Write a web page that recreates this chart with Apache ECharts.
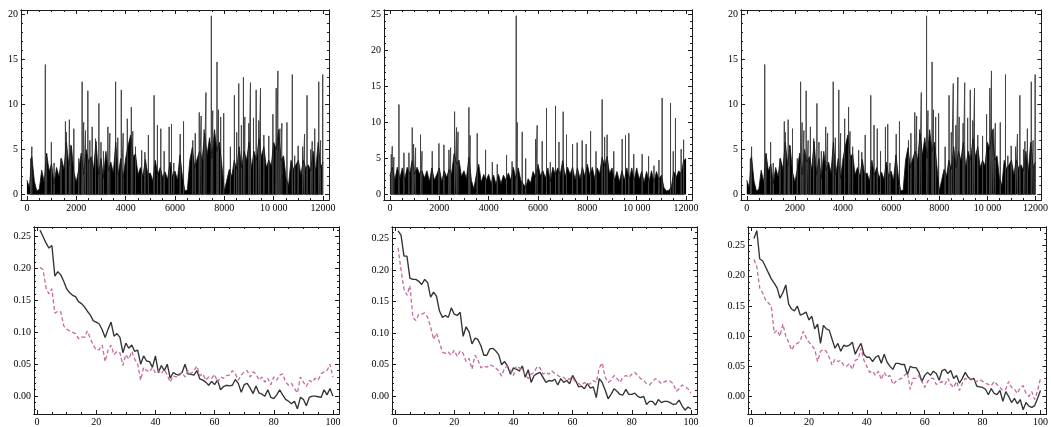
<!DOCTYPE html>
<html>
<head>
<meta charset="utf-8">
<script src="https://cdn.jsdelivr.net/npm/echarts@6/dist/echarts.min.js"></script>
<style>
html, body { margin: 0; padding: 0; background: #fff; }
#chart { width: 1051px; height: 427px; }
</style>
</head>
<body>
<div id="chart"></div>
<script>
// ---- tick labels ----
const topXTicks = [0, 2000, 4000, 6000, 8000, 10000, 12000];
const topXLabels = ['0', '2000', '4000', '6000', '8000', '10 000', '12000'];
const topYTicks20 = [0, 5, 10, 15, 20];
const topYTicks25 = [0, 5, 10, 15, 20, 25];
const botXTicks = [0, 20, 40, 60, 80, 100];
const botYTicks = [0, 0.05, 0.10, 0.15, 0.20, 0.25];

// ---- series A (left and right columns): dense part sampled every 100 steps, then isolated peaks ----
const bodyA = [
  1.6, 0.8, 4.2, 1.5, 0.4, 0.6, 2.7, 1.4, 4.5, 2.6,
  3.4, 1.2, 3.0, 2.0, 4.0, 2.8, 5.8, 3.2, 5.4, 2.5,
  1.4, 2.8, 4.6, 2.2, 5.0, 3.6, 4.2, 2.8, 5.9, 2.2,
  4.0, 1.8, 4.8, 2.6, 3.6, 2.4, 5.8, 2.2, 4.0, 1.8,
  4.0, 5.4, 6.6, 4.2, 4.5, 2.2, 3.0, 2.0, 3.9, 2.2,
  2.4, 1.5, 3.8, 2.2, 3.0, 1.9, 2.5, 1.7, 3.6, 2.0,
  2.6, 1.6, 4.4, 2.0, 0.4, 0.5, 3.8, 5.2, 3.0, 4.0,
  4.8, 3.8, 6.8, 4.4, 6.3, 4.0, 7.2, 4.8, 5.8, 3.2,
  0.4, 1.6, 2.8, 2.0, 3.8, 2.8, 5.3, 3.0, 4.8, 3.8,
  5.8, 3.0, 4.8, 3.8, 6.2, 4.2, 5.3, 3.0, 3.8, 3.2,
  5.8, 5.0, 7.2, 3.8, 4.3, 1.8, 1.0, 3.8, 2.8, 3.3,
  3.8, 2.2, 3.8, 2.9, 3.3, 2.6, 4.8, 2.5, 5.8, 3.0,
  3.6
];
const peaksA = [
  [150, 4.0], [200, 5.3], [746, 14.4], [800, 4.6], [990, 5.8], [1100, 3.5], [1380, 4.0],
  [1560, 8.1], [1600, 6.9], [1720, 8.3], [1780, 5.5], [1900, 7.3], [2100, 4.0], [2237, 12.5],
  [2300, 8.0], [2373, 7.1], [2468, 11.5], [2550, 6.0], [2644, 7.5], [2780, 6.2], [2915, 10.1],
  [3000, 5.8], [3100, 4.8], [3280, 7.5], [3360, 6.8], [3593, 12.5], [3680, 6.3], [3824, 11.6],
  [3900, 6.8], [4068, 8.4], [4231, 9.7], [4290, 7.0], [4400, 5.3], [4650, 4.9], [4780, 4.7],
  [4922, 6.6], [5153, 11.0], [5288, 7.7], [5424, 7.3], [5560, 4.8], [5763, 7.5], [5858, 7.8],
  [5950, 3.5], [6210, 6.7], [6346, 8.1], [6720, 6.0], [6821, 6.8], [6983, 9.1], [7060, 8.7],
  [7180, 7.2], [7254, 11.3], [7472, 19.8], [7530, 9.3], [7702, 14.7], [7760, 9.4], [7850, 8.6],
  [7973, 9.0], [8244, 5.3], [8407, 11.0], [8500, 6.9], [8583, 12.3], [8690, 7.7], [8773, 13.0],
  [8830, 8.6], [8990, 7.9], [9058, 12.4], [9180, 8.5], [9289, 11.6], [9390, 8.2], [9465, 11.8],
  [9600, 6.6], [9800, 6.5], [9967, 8.9], [10100, 11.8], [10170, 13.7], [10250, 7.3], [10330, 7.9],
  [10536, 8.0], [10753, 13.3], [10850, 4.3], [10990, 5.4], [11170, 5.3], [11250, 6.7], [11350, 11.0],
  [11500, 5.0], [11560, 5.9], [11662, 7.3], [11825, 12.5], [11900, 6.0], [11985, 13.3]
];

// ---- series B (middle column) ----
const bodyB = [
  2.6, 3.8, 2.0, 3.8, 2.2, 3.7, 2.1, 3.8, 2.8, 4.7,
  2.8, 3.8, 2.9, 3.3, 2.3, 3.3, 1.8, 3.7, 2.0, 2.8,
  3.7, 1.8, 3.3, 2.4, 3.5, 2.9, 5.7, 4.2, 4.8, 2.5,
  3.3, 2.2, 5.2, 2.0, 0.8, 2.7, 4.2, 1.7, 2.8, 2.0,
  2.8, 1.5, 2.7, 1.4, 2.8, 1.5, 2.7, 2.0, 3.0, 2.0,
  3.8, 2.2, 3.7, 2.0, 1.5, 1.0, 2.2, 1.6, 3.2, 2.4,
  4.2, 2.6, 3.3, 2.3, 3.7, 1.8, 3.8, 2.8, 3.7, 2.8,
  4.7, 2.5, 3.8, 2.8, 3.8, 2.1, 3.7, 2.2, 3.8, 2.5,
  4.2, 2.6, 3.8, 2.2, 3.7, 2.9, 5.2, 4.0, 5.3, 2.9,
  3.7, 2.0, 3.2, 1.8, 3.3, 2.0, 3.7, 2.1, 3.7, 2.0,
  3.7, 2.1, 3.2, 1.7, 3.2, 1.8, 3.3, 1.7, 3.2, 2.1,
  2.7, 1.0, 0.5, 0.6, 1.0, 3.2, 2.4, 3.3, 2.9, 4.7,
  5.0
];
const peaksB = [
  [54, 5.6], [95, 6.7], [160, 5.2], [365, 12.5], [567, 5.8], [770, 5.8], [905, 9.3], [960, 7.0],
  [1040, 6.5], [1240, 8.3], [1300, 6.0], [1715, 6.0], [1985, 7.1], [2187, 6.9], [2390, 6.2],
  [2460, 6.5], [2620, 11.5], [2700, 9.3], [2760, 8.7], [3200, 12.1], [3250, 8.2], [3537, 8.5],
  [3875, 6.2], [4150, 4.5], [4350, 4.2], [4725, 5.5], [4950, 4.6], [5117, 24.8], [5160, 10.0],
  [5360, 8.7], [5500, 5.0], [5900, 7.7], [5967, 9.6], [6170, 7.4], [6345, 12.0], [6500, 4.5],
  [6710, 12.3], [6850, 7.3], [7020, 11.5], [7155, 8.3], [7400, 7.0], [7587, 7.2], [7790, 7.5],
  [7950, 7.0], [8130, 8.8], [8350, 6.0], [8600, 13.2], [8700, 8.0], [8800, 8.3], [9070, 6.0],
  [9410, 7.7], [9545, 8.2], [9680, 8.5], [9880, 5.6], [10220, 5.6], [10480, 5.3], [10700, 4.0],
  [10900, 4.8], [11030, 13.4], [11370, 12.7], [11480, 6.0], [11570, 10.6], [11800, 6.3], [11900, 7.6]
];

// ---- lag curves, lags 1..100 ----
const leftSolid = [
  0.260, 0.250, 0.240, 0.232, 0.236, 0.188, 0.195, 0.190, 0.180, 0.168,
  0.162, 0.158, 0.156, 0.148, 0.145, 0.140, 0.133, 0.127, 0.118, 0.116,
  0.113, 0.104, 0.092, 0.105, 0.116, 0.094, 0.098, 0.092, 0.068, 0.083,
  0.075, 0.080, 0.070, 0.072, 0.050, 0.063, 0.055, 0.054, 0.045, 0.063,
  0.037, 0.048, 0.040, 0.050, 0.028, 0.037, 0.034, 0.033, 0.037, 0.050,
  0.035, 0.034, 0.033, 0.040, 0.027, 0.025, 0.022, 0.017, 0.023, 0.018,
  0.025, 0.010, 0.015, 0.017, 0.016, 0.017, 0.026, 0.020, 0.006, 0.018,
  0.020, 0.013, 0.004, 0.016, 0.005, 0.003, 0.000, 0.010, -0.002, -0.004,
  0.002, 0.010, 0.002, -0.005, -0.008, -0.012, -0.008, -0.020, -0.002, -0.005,
  -0.015, -0.002, 0.000, 0.000, -0.001, -0.002, 0.010, 0.002, 0.012, 0.000
];
const leftDashed = [
  0.202, 0.198, 0.170, 0.160, 0.168, 0.130, 0.133, 0.132, 0.110, 0.105,
  0.102, 0.100, 0.098, 0.090, 0.093, 0.092, 0.102, 0.090, 0.080, 0.072,
  0.073, 0.080, 0.054, 0.072, 0.080, 0.065, 0.070, 0.068, 0.048, 0.065,
  0.058, 0.070, 0.058, 0.050, 0.025, 0.045, 0.040, 0.038, 0.045, 0.036,
  0.040, 0.035, 0.042, 0.033, 0.022, 0.032, 0.030, 0.035, 0.037, 0.030,
  0.040, 0.035, 0.040, 0.047, 0.032, 0.035, 0.025, 0.030, 0.028, 0.034,
  0.022, 0.030, 0.028, 0.032, 0.033, 0.040, 0.035, 0.025, 0.033, 0.038,
  0.040, 0.030, 0.038, 0.035, 0.025, 0.030, 0.022, 0.028, 0.018, 0.030,
  0.025, 0.033, 0.035, 0.022, 0.017, 0.020, 0.012, 0.005, 0.030, 0.022,
  0.015, 0.025, 0.022, 0.028, 0.025, 0.035, 0.038, 0.040, 0.050, 0.030
];
const midSolid = [
  0.262, 0.255, 0.222, 0.222, 0.187, 0.185, 0.185, 0.182, 0.177, 0.185,
  0.180, 0.157, 0.165, 0.158, 0.135, 0.125, 0.128, 0.125, 0.140, 0.130,
  0.128, 0.133, 0.095, 0.110, 0.102, 0.083, 0.092, 0.090, 0.080, 0.065,
  0.065, 0.075, 0.076, 0.072, 0.066, 0.050, 0.055, 0.048, 0.035, 0.045,
  0.043, 0.040, 0.048, 0.030, 0.042, 0.022, 0.033, 0.036, 0.038, 0.030,
  0.022, 0.025, 0.024, 0.027, 0.018, 0.028, 0.022, 0.025, 0.020, 0.033,
  0.025, 0.015, 0.016, 0.012, 0.020, 0.013, 0.015, -0.002, 0.028, 0.022,
  0.010, -0.004, 0.003, 0.012, 0.008, 0.003, 0.002, 0.011, 0.003, 0.003,
  0.005, 0.000, -0.002, 0.000, -0.013, -0.008, -0.008, -0.014, -0.005, -0.010,
  -0.008, -0.008, -0.010, -0.013, -0.012, -0.006, -0.015, -0.022, -0.017, -0.020
];
const midDashed = [
  0.235, 0.200, 0.170, 0.160, 0.175, 0.125, 0.120, 0.130, 0.130, 0.132,
  0.125, 0.110, 0.090, 0.100, 0.085, 0.070, 0.068, 0.070, 0.065, 0.073,
  0.063, 0.072, 0.068, 0.055, 0.060, 0.043, 0.065, 0.058, 0.045, 0.048,
  0.046, 0.050, 0.048, 0.045, 0.040, 0.032, 0.045, 0.048, 0.040, 0.033,
  0.048, 0.045, 0.040, 0.035, 0.028, 0.035, 0.038, 0.047, 0.045, 0.035,
  0.038, 0.035, 0.040, 0.036, 0.033, 0.030, 0.030, 0.025, 0.028, 0.030,
  0.022, 0.020, 0.018, 0.022, 0.018, 0.020, 0.025, 0.022, 0.045, 0.053,
  0.030, 0.022, 0.025, 0.033, 0.028, 0.022, 0.030, 0.033, 0.030, 0.035,
  0.038, 0.033, 0.028, 0.025, 0.020, 0.018, 0.023, 0.028, 0.025, 0.020,
  0.023, 0.025, 0.024, 0.020, 0.008, 0.012, 0.018, 0.015, 0.012, 0.005
];
const rightSolid = [
  0.262, 0.275, 0.228, 0.225, 0.215, 0.205, 0.195, 0.188, 0.180, 0.163,
  0.172, 0.185, 0.153, 0.145, 0.142, 0.150, 0.135, 0.137, 0.140, 0.127,
  0.133, 0.112, 0.120, 0.088, 0.118, 0.112, 0.110, 0.095, 0.080, 0.088,
  0.075, 0.085, 0.083, 0.085, 0.090, 0.070, 0.080, 0.088, 0.070, 0.065,
  0.065, 0.058, 0.065, 0.068, 0.055, 0.070, 0.057, 0.050, 0.045, 0.055,
  0.055, 0.053, 0.053, 0.036, 0.050, 0.048, 0.048, 0.040, 0.025, 0.035,
  0.040, 0.035, 0.042, 0.038, 0.027, 0.043, 0.045, 0.038, 0.043, 0.030,
  0.035, 0.022, 0.030, 0.040, 0.032, 0.028, 0.030, 0.017, 0.016, 0.015,
  0.012, 0.003, 0.013, 0.005, 0.003, 0.010, -0.008, 0.008, 0.000, -0.010,
  -0.003, -0.012, -0.005, -0.022, -0.010, -0.016, -0.018, -0.015, -0.003, 0.010
];
const rightDashed = [
  0.227, 0.215, 0.180, 0.172, 0.160, 0.155, 0.150, 0.105, 0.110, 0.100,
  0.120, 0.100, 0.090, 0.077, 0.085, 0.088, 0.092, 0.108, 0.098, 0.090,
  0.085, 0.078, 0.058, 0.075, 0.078, 0.075, 0.065, 0.052, 0.062, 0.058,
  0.060, 0.052, 0.050, 0.055, 0.045, 0.060, 0.062, 0.080, 0.060, 0.050,
  0.040, 0.042, 0.035, 0.042, 0.028, 0.040, 0.032, 0.035, 0.020, 0.025,
  0.028, 0.030, 0.035, 0.040, 0.012, 0.030, 0.030, 0.035, 0.025, 0.015,
  0.025, 0.030, 0.030, 0.020, 0.022, 0.025, 0.020, 0.030, 0.020, 0.015,
  0.025, 0.010, 0.022, 0.030, 0.028, 0.030, 0.025, 0.025, 0.028, 0.025,
  0.022, 0.020, 0.018, 0.025, 0.020, 0.015, 0.010, 0.012, 0.025, 0.015,
  0.012, 0.005, 0.015, 0.018, 0.005, 0.000, 0.008, -0.005, 0.010, 0.030
];

// ---- styling ----
const FONT = '"Liberation Serif", "DejaVu Serif", serif';
const INK = '#1c1c1c';
const SOLID = '#333333';
const DASHED = '#c46c9e';

const panels = [
  { box: { left: 21, top: 10, width: 308, height: 190 }, x: [-240, 12240], y: [-0.6, 20.45],
    xt: topXTicks, xl: topXLabels, xm: 500, yt: topYTicks20, yl: topYTicks20.map(String), ym: 1,
    kind: 'trace', body: bodyA, peaks: peaksA },
  { box: { left: 384, top: 10, width: 308, height: 190 }, x: [-240, 12240], y: [-0.75, 25.6],
    xt: topXTicks, xl: topXLabels, xm: 500, yt: topYTicks25, yl: topYTicks25.map(String), ym: 1,
    kind: 'trace', body: bodyB, peaks: peaksB },
  { box: { left: 741, top: 10, width: 308, height: 190 }, x: [-240, 12240], y: [-0.6, 20.45],
    xt: topXTicks, xl: topXLabels, xm: 500, yt: topYTicks20, yl: topYTicks20.map(String), ym: 1,
    kind: 'trace', body: bodyA, peaks: peaksA },
  { box: { left: 34, top: 227, width: 305, height: 188 }, x: [-1.05, 102.05], y: [-0.028, 0.265],
    xt: botXTicks, xl: botXTicks.map(String), xm: 5, yt: botYTicks, yl: botYTicks.map(v => v.toFixed(2)), ym: 0.01,
    kind: 'lags', solid: leftSolid, dashed: leftDashed },
  { box: { left: 392, top: 227, width: 305, height: 188 }, x: [-1.05, 102.05], y: [-0.028, 0.268],
    xt: botXTicks, xl: botXTicks.map(String), xm: 5, yt: botYTicks, yl: botYTicks.map(v => v.toFixed(2)), ym: 0.01,
    kind: 'lags', solid: midSolid, dashed: midDashed },
  { box: { left: 748, top: 227, width: 305, height: 188 }, x: [-1.05, 102.05], y: [-0.029, 0.281],
    xt: botXTicks, xl: botXTicks.map(String), xm: 5, yt: botYTicks, yl: botYTicks.map(v => v.toFixed(2)), ym: 0.01,
    kind: 'lags', solid: rightSolid, dashed: rightDashed }
];

function minorValues(range, step, majors) {
  const out = [];
  const start = Math.ceil(range[0] / step - 1e-9);
  for (let k = start; k * step <= range[1] + 1e-9; k++) {
    const v = Math.round(k * step * 1e6) / 1e6;
    if (!majors.some(m => Math.abs(m - v) < 1e-9)) out.push(v);
  }
  return out;
}

// each peak is drawn as a vertical stroke rising from the baseline
function peakPath(peaks) {
  const pts = [];
  peaks.slice().sort((a, b) => a[0] - b[0]).forEach(([x, h]) => {
    pts.push([x, 0], [x, h], [x, 0]);
  });
  return pts;
}

function frameAxis(gi, range, pos, ticks, len, labels) {
  const ax = {
    type: 'value', gridIndex: gi, min: range[0], max: range[1], position: pos,
    scale: true, splitLine: { show: false },
    axisLine: { show: true, onZero: false, lineStyle: { color: INK, width: 1 } },
    axisTick: { show: true, inside: true, length: len, customValues: ticks,
                lineStyle: { color: INK, width: 1 } },
    axisLabel: { show: false }
  };
  if (labels) {
    ax.axisLabel = {
      show: true, customValues: ticks, color: '#000', fontFamily: FONT, fontSize: 10,
      margin: 3, hideOverlap: false,
      formatter: v => {
        const i = ticks.findIndex(t => Math.abs(t - v) < 1e-9);
        return i >= 0 ? labels[i] : '';
      }
    };
  }
  return ax;
}

const grid = [], xAxis = [], yAxis = [], series = [];

panels.forEach((p, gi) => {
  grid.push(Object.assign({ containLabel: false, show: false }, p.box));
  const xMinor = minorValues(p.x, p.xm, p.xt);
  const yMinor = minorValues(p.y, p.ym, p.yt);

  const xMain = xAxis.length;
  xAxis.push(frameAxis(gi, p.x, 'bottom', p.xt, 4, p.xl));
  xAxis.push(frameAxis(gi, p.x, 'bottom', xMinor, 2, null));
  xAxis.push(frameAxis(gi, p.x, 'top', p.xt, 4, null));
  xAxis.push(frameAxis(gi, p.x, 'top', xMinor, 2, null));

  const yMain = yAxis.length;
  yAxis.push(frameAxis(gi, p.y, 'left', p.yt, 4, p.yl));
  yAxis.push(frameAxis(gi, p.y, 'left', yMinor, 2, null));
  yAxis.push(frameAxis(gi, p.y, 'right', p.yt, 4, null));
  yAxis.push(frameAxis(gi, p.y, 'right', yMinor, 2, null));

  if (p.kind === 'trace') {
    // isolated tall excursions
    series.push({
      type: 'line', xAxisIndex: xMain, yAxisIndex: yMain, silent: true,
      showSymbol: false, symbol: 'none',
      lineStyle: { color: '#444', width: 1 },
      data: peakPath(p.peaks)
    });
    // dense part of the trace: filled jagged profile
    series.push({
      type: 'line', xAxisIndex: xMain, yAxisIndex: yMain, silent: true,
      showSymbol: false, symbol: 'none',
      lineStyle: { color: '#111', width: 0.8 },
      areaStyle: { color: '#000', opacity: 1 },
      data: p.body.map((v, i) => [i * 100, v])
    });
  } else {
    series.push({
      type: 'line', xAxisIndex: xMain, yAxisIndex: yMain, silent: true,
      showSymbol: false, symbol: 'none',
      lineStyle: { color: SOLID, width: 1.35 },
      data: p.solid.map((v, i) => [i + 1, v])
    });
    series.push({
      type: 'line', xAxisIndex: xMain, yAxisIndex: yMain, silent: true,
      showSymbol: false, symbol: 'none',
      lineStyle: { color: DASHED, width: 1.3, type: [4, 2.5] },
      data: p.dashed.map((v, i) => [i + 1, v])
    });
  }
});

const chart = echarts.init(document.getElementById('chart'), null, { renderer: 'canvas' });
chart.setOption({
  animation: false,
  backgroundColor: '#fff',
  grid, xAxis, yAxis, series
});
</script>
</body>
</html>
